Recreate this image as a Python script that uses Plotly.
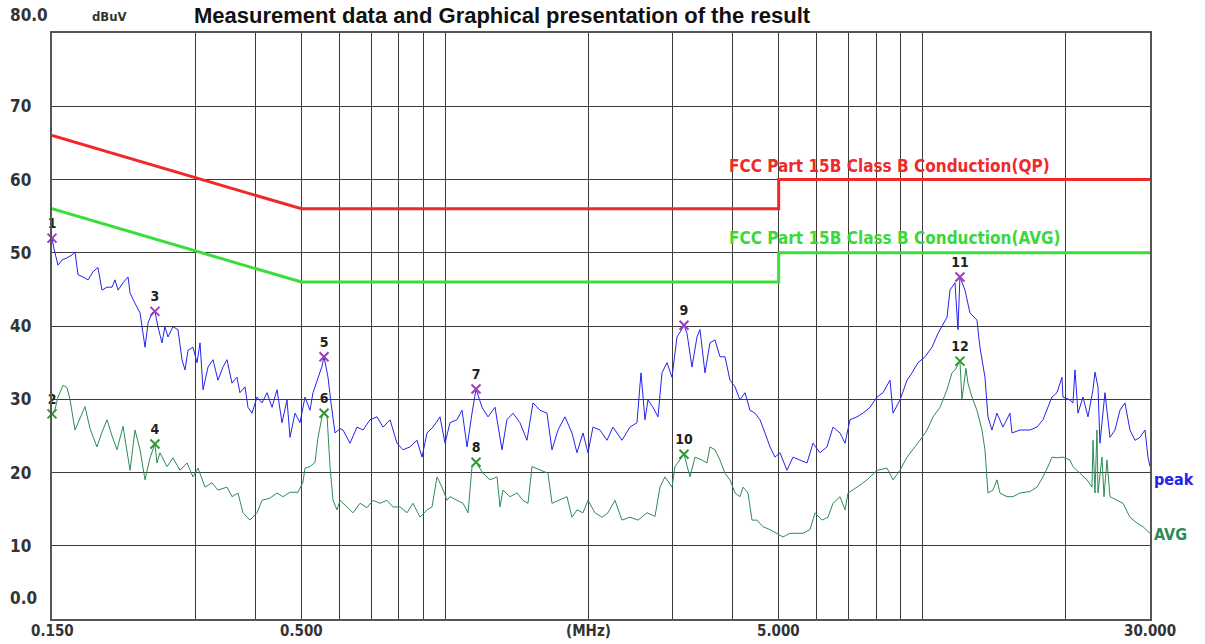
import math
import plotly.graph_objects as go

# ---- measured spectrum: peak detector (MHz, dBuV) ----
freq_peak = [0.1500, 0.1515, 0.1544, 0.1574, 0.1612, 0.1652, 0.1676, 0.1701, 0.1742, 0.1785,
             0.1828, 0.1872, 0.1909, 0.1956, 0.2004, 0.2033, 0.2063, 0.2113, 0.2165, 0.2186,
             0.2239, 0.2294, 0.2350, 0.2384, 0.2430, 0.2465, 0.2501, 0.2550, 0.2587, 0.2625,
             0.2689, 0.2755, 0.2809, 0.2850, 0.2892, 0.2962, 0.3020, 0.3064, 0.3109, 0.3185,
             0.3262, 0.3341, 0.3423, 0.3490, 0.3575, 0.3662, 0.3715, 0.3807, 0.3862, 0.3938,
             0.4034, 0.4133, 0.4234, 0.4337, 0.4443, 0.4551, 0.4662, 0.4730, 0.4846, 0.4964,
             0.5085, 0.5209, 0.5285, 0.5415, 0.5520, 0.5574, 0.5682, 0.5765, 0.5878, 0.6021,
             0.6109, 0.6319, 0.6536, 0.6728, 0.6959, 0.7198, 0.7410, 0.7664, 0.7928, 0.8160,
             0.8440, 0.8731, 0.8944, 0.9162, 0.9431, 0.9755, 0.9994, 1.0237, 1.0589, 1.0849,
             1.1114, 1.1385, 1.1607, 1.1948, 1.2299, 1.2722, 1.3155, 1.3476, 1.3873, 1.4349,
             1.4841, 1.5278, 1.5803, 1.6345, 1.6745, 1.7237, 1.7829, 1.8441, 1.8891, 1.9446,
             1.9922, 2.0408, 2.1108, 2.1834, 2.2476, 2.3474, 2.4397, 2.5235, 2.5728, 2.6229,
             2.6612, 2.7261, 2.7928, 2.8472, 2.9167, 2.9880, 3.0609, 3.1357, 3.1661, 3.2122,
             3.2907, 3.3710, 3.4200, 3.5038, 3.5891, 3.6771, 3.7666, 3.8589, 3.9529, 4.0497,
             4.1483, 4.2500, 4.3534, 4.4601, 4.5687, 4.6806, 4.7945, 4.9120, 5.0316, 5.2047,
             5.3577, 5.5415, 5.7320, 5.9006, 6.1030, 6.3129, 6.4982, 6.7214, 6.8861, 7.054,
             7.296, 7.511, 7.768, 8.038, 8.272, 8.556, 8.681, 8.979, 9.288, 9.515,
             9.795, 10.131, 10.479, 10.787, 11.266, 11.429, 11.706, 11.876, 11.990, 12.284,
             12.583, 13.016, 13.205, 13.529, 13.726, 13.993, 14.334, 14.756, 15.262, 15.411,
             16.017, 16.809, 17.387, 17.898, 18.336, 18.693, 19.149, 19.617, 19.712, 20.388,
             20.687, 20.887, 21.192, 21.710, 22.240, 22.783, 23.004, 23.340, 23.564, 24.141,
             24.730, 25.336, 25.952, 26.588, 27.235, 27.903, 28.582, 29.283, 29.710, 30.000]
level_peak = [52.0, 50.5, 48.3, 49.0, 49.3, 49.7, 50.1, 47.0, 46.7, 46.3,
              47.4, 48.0, 44.9, 45.3, 45.3, 46.3, 44.9, 45.9, 46.7, 44.5,
              43.1, 41.8, 37.1, 40.4, 41.8, 42.0, 39.9, 37.7, 39.9, 38.5,
              39.9, 39.5, 35.4, 34.0, 36.7, 37.1, 35.0, 37.7, 31.3, 34.4,
              35.4, 32.6, 34.4, 35.4, 32.2, 33.0, 30.9, 31.7, 28.9, 28.1,
              30.3, 29.5, 30.9, 28.9, 31.3, 26.8, 29.9, 24.8, 28.1, 26.8,
              30.3, 28.5, 30.9, 33.0, 34.5, 35.8, 33.0, 29.5, 25.4, 26.0,
              25.8, 24.0, 26.2, 25.8, 27.2, 27.6, 26.2, 27.2, 24.0, 23.1,
              23.5, 24.4, 22.1, 25.4, 26.2, 27.6, 24.0, 26.8, 27.2, 28.5,
              23.5, 28.1, 31.4, 28.9, 27.6, 28.9, 23.1, 27.2, 28.1, 26.8,
              24.4, 29.5, 28.5, 28.1, 23.1, 25.8, 27.6, 25.4, 22.7, 25.4,
              22.7, 26.2, 25.8, 24.4, 26.2, 24.4, 26.2, 26.8, 33.6, 27.2,
              29.9, 28.9, 27.6, 33.6, 35.0, 33.0, 38.5, 39.6, 40.1, 39.0,
              34.4, 38.5, 39.5, 33.6, 37.7, 38.1, 35.8, 35.8, 32.6, 31.7,
              29.9, 30.9, 28.5, 28.1, 27.2, 25.4, 23.5, 22.1, 22.7, 20.3,
              22.1, 21.7, 21.3, 24.0, 22.7, 23.5, 26.2, 25.4, 24.0, 27.2,
              27.6, 28.1, 28.9, 30.3, 30.9, 32.6, 28.1, 29.9, 32.6, 33.6,
              35.0, 35.8, 37.1, 39.0, 41.2, 44.9, 45.9, 39.5, 46.7, 44.9,
              41.8, 40.8, 37.1, 33.0, 27.6, 25.8, 28.1, 26.2, 28.1, 25.4,
              25.8, 25.8, 26.2, 27.2, 28.9, 30.3, 30.9, 33.0, 30.3, 29.9,
              29.5, 34.0, 28.1, 30.3, 27.6, 31.3, 33.7, 31.7, 24.0, 30.9,
              24.8, 25.8, 28.5, 29.5, 25.8, 24.4, 24.8, 25.8, 22.1, 20.8]

# ---- measured spectrum: average detector (MHz, dBuV) ----
freq_avg = [0.1500, 0.1522, 0.1544, 0.1582, 0.1612, 0.1636, 0.1676, 0.1717, 0.1759, 0.1802,
            0.1863, 0.1909, 0.1956, 0.2004, 0.2053, 0.2113, 0.2154, 0.2186, 0.2239, 0.2294,
            0.2350, 0.2407, 0.2465, 0.2489, 0.2525, 0.2612, 0.2689, 0.2781, 0.2878, 0.2962,
            0.3035, 0.3139, 0.3246, 0.3341, 0.3490, 0.3575, 0.3680, 0.3770, 0.3899, 0.4034,
            0.4133, 0.4295, 0.4443, 0.4573, 0.4730, 0.4916, 0.5036, 0.5085, 0.5209, 0.5337,
            0.5415, 0.5520, 0.5574, 0.5655, 0.5737, 0.5821, 0.5934, 0.6021, 0.6228, 0.6411,
            0.6631, 0.6859, 0.7061, 0.7303, 0.7554, 0.7776, 0.8043, 0.8319, 0.8564, 0.8858,
            0.9162, 0.9386, 0.9615, 0.9850, 1.0090, 1.0237, 1.0589, 1.0901, 1.1168, 1.1385,
            1.1607, 1.2006, 1.2418, 1.2845, 1.3032, 1.3218, 1.3672, 1.4143, 1.4558, 1.4914,
            1.5205, 1.5803, 1.6425, 1.6745, 1.7237, 1.8001, 1.8441, 1.8891, 1.9446, 1.9922,
            2.0606, 2.1314, 2.1941, 2.2695, 2.3474, 2.4397, 2.5358, 2.6483, 2.7526, 2.8196,
            2.8887, 2.9880, 3.0316, 3.1054, 3.1661, 3.2589, 3.3387, 3.4534, 3.5377, 3.5891,
            3.6771, 3.7666, 3.8589, 3.9529, 4.0497, 4.1483, 4.2090, 4.3120, 4.3959, 4.5032,
            4.6355, 4.7945, 4.9594, 5.1053, 5.2804, 5.4620, 5.6226, 5.8154, 5.9579, 6.1625,
            6.3437, 6.4982, 6.7214, 6.8861, 6.9866, 7.2964, 7.6572, 8.038, 8.4331, 8.681,
            8.979, 9.288, 9.5606, 9.8885, 10.229, 10.530, 10.891, 11.265, 11.537, 11.706,
            11.990, 12.107, 12.343, 12.463, 12.706, 13.016, 13.334, 13.529, 13.726, 14.061,
            14.334, 14.543, 15.043, 15.486, 16.017, 16.809, 17.387, 17.898, 18.336, 18.693,
            19.149, 19.712, 20.388, 20.687, 21.396, 22.132, 22.673, 22.783, 23.004, 23.226,
            23.340, 23.794, 24.025, 24.375, 24.730, 25.580, 26.332, 27.235, 28.172, 29.000,
            30.000]
level_avg = [28.0, 28.6, 30.3, 31.9, 31.6, 30.0, 25.8, 27.5, 29.0, 26.0,
             23.5, 25.5, 27.2, 25.0, 23.1, 26.3, 22.5, 20.3, 25.8, 23.1,
             19.0, 22.0, 23.9, 21.3, 22.7, 20.8, 22.0, 20.3, 21.3, 19.4,
             20.6, 18.0, 18.6, 17.6, 18.0, 16.7, 17.2, 14.5, 13.5, 14.5,
             16.2, 16.5, 17.2, 16.7, 17.3, 17.3, 18.7, 20.6, 20.8, 21.4,
             24.8, 27.6, 28.1, 27.8, 20.8, 16.2, 14.9, 16.2, 15.3, 14.5,
             15.8, 15.2, 16.2, 15.8, 16.2, 15.3, 15.3, 14.5, 15.8, 13.9,
             14.9, 15.3, 19.4, 18.0, 16.2, 16.7, 16.2, 15.8, 14.5, 20.8,
             21.4, 19.9, 19.0, 19.4, 15.3, 17.6, 16.7, 17.2, 16.2, 15.8,
             20.8, 20.3, 19.9, 15.8, 16.2, 16.7, 13.9, 14.9, 14.5, 16.2,
             14.5, 13.9, 14.5, 16.2, 13.5, 13.9, 13.5, 14.5, 14.0, 18.0,
             19.4, 18.0, 20.8, 21.7, 22.5, 19.4, 22.1, 21.7, 21.3, 23.5,
             23.1, 21.7, 19.9, 19.0, 17.2, 16.7, 18.0, 17.2, 13.5, 13.5,
             12.6, 12.2, 11.7, 11.2, 11.7, 11.7, 11.7, 12.2, 14.5, 13.5,
             13.9, 15.8, 16.7, 14.9, 17.2, 18.0, 19.0, 20.3, 20.6, 19.0,
             20.3, 22.1, 23.1, 24.4, 25.8, 27.6, 28.9, 31.3, 33.6, 34.0,
             35.2, 30.0, 34.2, 32.2, 30.3, 28.5, 25.8, 23.1, 17.2, 17.6,
             19.0, 17.2, 16.7, 16.7, 17.2, 17.4, 18.0, 19.4, 20.8, 22.1,
             22.0, 22.1, 21.7, 20.8, 19.9, 19.0, 18.0, 24.4, 17.2, 25.8,
             17.2, 22.1, 16.7, 21.7, 16.7, 16.2, 15.8, 13.9, 13.1, 12.6,
             11.7]

# ---- FCC Part 15B Class B conducted limits ----
limit_freq = [0.15, 0.5, 5.0, 5.0, 30.0]
limit_qp = [66, 56, 56, 60, 60]
limit_avg = [56, 46, 46, 50, 50]

# ---- marked points ----
peak_mk_freq = [0.1500, 0.2465, 0.5574, 1.1607, 3.1661, 11.990]
peak_mk_level = [52.0, 42.0, 35.8, 31.4, 40.1, 46.7]
peak_mk_label = ["1", "3", "5", "7", "9", "11"]
avg_mk_freq = [0.1500, 0.2465, 0.5574, 1.1607, 3.1661, 11.990]
avg_mk_level = [28.0, 23.9, 28.1, 21.4, 22.5, 35.2]
avg_mk_label = ["2", "4", "6", "8", "10", "12"]

# ---- axis labels ----
grid_freq = [0.3, 0.4, 0.5, 0.6, 0.7, 0.8, 0.9, 1, 2, 3, 4, 5, 6, 7, 8, 9, 10, 20]
x_label_freq = [0.15, 0.5, 2.0, 5.0, 30.0]
x_label_text = ["0.150", "0.500", "(MHz)", "5.000", "30.000"]
y_label_vals = [80, 70, 60, 50, 40, 30, 20, 10, 0]
y_label_text = ["80.0", "70", "60", "50", "40", "30", "20", "10", "0.0"]

FONT = "DejaVu Sans Condensed, Arial, sans-serif"
TXT = "#333333"
GRID = "#3c3c3c"

fig = go.Figure()

fig.add_trace(go.Scatter(x=limit_freq, y=limit_qp, mode="lines",
                         line=dict(color="#f02828", width=3), hoverinfo="skip"))
fig.add_trace(go.Scatter(x=limit_freq, y=limit_avg, mode="lines",
                         line=dict(color="#3ade3a", width=3), hoverinfo="skip"))
fig.add_trace(go.Scatter(x=freq_avg, y=level_avg, mode="lines",
                         line=dict(color="#2e8b57", width=1)))
fig.add_trace(go.Scatter(x=freq_peak, y=level_peak, mode="lines",
                         line=dict(color="#2323f0", width=1)))

fig.add_trace(go.Scatter(x=peak_mk_freq, y=peak_mk_level, mode="markers+text",
                         marker=dict(symbol="x-thin", size=9,
                                     line=dict(color="#a23cbf", width=2)),
                         text=[f"<b>{t}</b>" for t in peak_mk_label],
                         textposition="top center",
                         textfont=dict(family=FONT, size=14, color="#222222"),
                         cliponaxis=False))
fig.add_trace(go.Scatter(x=avg_mk_freq, y=avg_mk_level, mode="markers+text",
                         marker=dict(symbol="x-thin", size=9,
                                     line=dict(color="#2f9a2f", width=2)),
                         text=[f"<b>{t}</b>" for t in avg_mk_label],
                         textposition="top center",
                         textfont=dict(family=FONT, size=14, color="#222222"),
                         cliponaxis=False))

annotations = []
for f, t in zip(x_label_freq, x_label_text):
    annotations.append(dict(x=math.log10(f), xref="x", y=0, yref="paper", yshift=-12,
                            text=f"<b>{t}</b>", showarrow=False, xanchor="center",
                            yanchor="middle", font=dict(family=FONT, size=15, color=TXT)))
for v, t in zip(y_label_vals, y_label_text):
    shift = 18 if v == 80 else (21 if v == 0 else 0)
    annotations.append(dict(x=-0.0401, xref="paper", y=v, yref="y", yshift=shift,
                            text=f"<b>{t}</b>", showarrow=False, xanchor="left",
                            yanchor="middle", font=dict(family=FONT, size=17, color=TXT)))

annotations += [
    dict(x=0.0346, xref="paper", y=80, yref="y", yshift=17, text="<b>dBuV</b>",
         showarrow=False, xanchor="left", yanchor="middle",
         font=dict(family=FONT, size=13, color=TXT)),
    dict(x=0.4107, xref="paper", y=1.0563, yref="paper", yshift=-1,
         text="<b>Measurement data and Graphical presentation of the result</b>",
         showarrow=False, xanchor="center", yanchor="top",
         font=dict(family="Arial, sans-serif", size=22, color="#111111")),
    dict(x=math.log10(3.896), xref="x", y=61.8, yref="y",
         text="<b>FCC Part 15B Class B Conduction(QP)</b>", showarrow=False,
         xanchor="left", yanchor="middle",
         font=dict(family=FONT, size=17, color="#ee2a2a")),
    dict(x=math.log10(3.896), xref="x", y=52.0, yref="y",
         text="<b>FCC Part 15B Class B Conduction(AVG)</b>", showarrow=False,
         xanchor="left", yanchor="middle",
         font=dict(family=FONT, size=17, color="#3ad83a")),
    dict(x=1.002, xref="paper", y=19.1, yref="y", text="<b>peak</b>",
         showarrow=False, xanchor="left", yanchor="middle",
         font=dict(family=FONT, size=16, color="#2323f0")),
    dict(x=1.002, xref="paper", y=11.5, yref="y", text="<b>AVG</b>",
         showarrow=False, xanchor="left", yanchor="middle",
         font=dict(family=FONT, size=16, color="#2e8b57")),
]

fig.update_layout(
    width=1205, height=644,
    margin=dict(l=52, r=55, t=33, b=25),
    paper_bgcolor="white", plot_bgcolor="white",
    showlegend=False,
    annotations=annotations,
    xaxis=dict(type="log", range=[math.log10(0.15), math.log10(30)],
               tickvals=grid_freq, showticklabels=False, ticks="",
               showgrid=True, gridcolor=GRID, gridwidth=1.3,
               showline=True, linecolor="#555555", linewidth=2, mirror=True,
               zeroline=False),
    yaxis=dict(range=[0, 80], tickvals=[10, 20, 30, 40, 50, 60, 70],
               showticklabels=False, ticks="",
               showgrid=True, gridcolor=GRID, gridwidth=1.3,
               showline=True, linecolor="#555555", linewidth=2, mirror=True,
               zeroline=False),
)

fig.write_html("out.html")
